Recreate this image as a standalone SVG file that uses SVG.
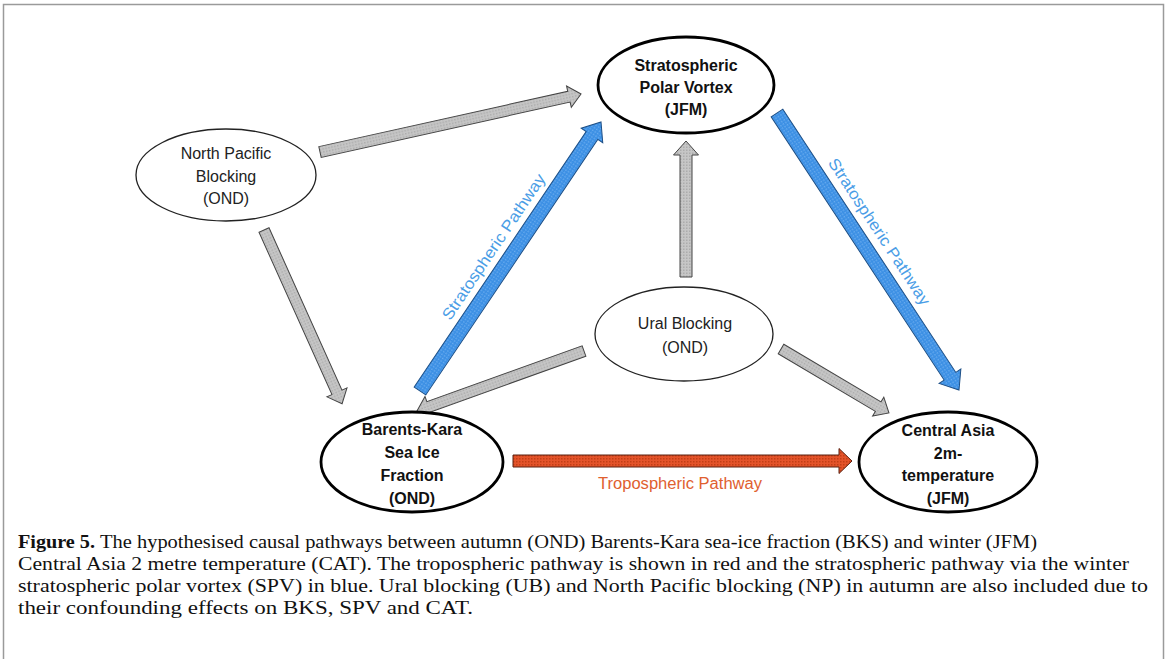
<svg xmlns="http://www.w3.org/2000/svg" width="1168" height="659" viewBox="0 0 1168 659">
<style>
.node-thick{fill:#fff;stroke:#000;stroke-width:2.8}
.node-thin{fill:#fff;stroke:#222;stroke-width:1.3}
.nb{font-family:"Liberation Sans",Arial,sans-serif;font-size:16px;font-weight:bold;fill:#111;text-anchor:middle}
.nr{font-family:"Liberation Sans",Arial,sans-serif;font-size:16px;fill:#222;text-anchor:middle}
.ag{fill:url(#pg);stroke:#444;stroke-width:1}
.ab{fill:url(#pb);stroke:#1d4f86;stroke-width:1}
.ar{fill:url(#pr);stroke:#5a2010;stroke-width:1}
.lb{font-family:"Liberation Sans",Arial,sans-serif;font-size:16px;fill:#4a9de6;text-anchor:middle}
.lr{font-family:"Liberation Sans",Arial,sans-serif;font-size:16px;fill:#e0602f;text-anchor:middle}
.cap{font-family:"Liberation Serif","Times New Roman",serif;font-size:18.5px;fill:#111}
</style>
<defs>
<pattern id="pg" width="3" height="3" patternUnits="userSpaceOnUse"><rect width="3" height="3" fill="#c6c6c6"/><rect width="1.5" height="1.5" fill="#acacac"/></pattern>
<pattern id="pb" width="3" height="3" patternUnits="userSpaceOnUse"><rect width="3" height="3" fill="#3b8fe4"/><rect width="1.5" height="1.5" fill="#69acef"/></pattern>
<pattern id="pr" width="3" height="3" patternUnits="userSpaceOnUse"><rect width="3" height="3" fill="#e4532a"/><rect width="1.5" height="1.5" fill="#c23e16"/></pattern>
</defs>
<rect width="1168" height="659" fill="#fff"/>
<path d="M3.5,665 V4.5 H1163.5 V665" fill="none" stroke="#9a9a9a" stroke-width="1.5"/>

<g id="connectors">
<polygon class="ag" transform="translate(320,152) rotate(-12.53)" points="0,-5.5 255,-5.5 255,-11 267.4,0 255,11 255,5.5 0,5.5"/>
<polygon class="ab" transform="translate(420,391) rotate(-56.06)" points="0,-7 308,-7 308,-13 324.2,0 308,13 308,7 0,7"/>
<polygon class="ag" transform="translate(264,230) rotate(65.8)" points="0,-5.5 178,-5.5 178,-11 190.5,0 178,11 178,5.5 0,5.5"/>
<polygon class="ag" transform="translate(686,277) rotate(-90)" points="0,-6 122,-6 122,-12.5 136,0 122,12.5 122,6 0,6"/>
<polygon class="ag" transform="translate(584,351) rotate(160.24)" points="0,-5.5 165,-5.5 165,-11 177.5,0 165,11 165,5.5 0,5.5"/>
<polygon class="ag" transform="translate(781,349) rotate(30.65)" points="0,-5.5 113,-5.5 113,-11 125.5,0 113,11 113,5.5 0,5.5"/>
<polygon class="ab" transform="translate(777,113) rotate(56.69)" points="0,-7 315,-7 315,-13 331.4,0 315,13 315,7 0,7"/>
<polygon class="ar" transform="translate(513,461)" points="0,-6 326,-6 326,-12.5 339,0 326,12.5 326,6 0,6"/>

<text class="lb" transform="translate(494,247) rotate(-56.06)" textLength="172" lengthAdjust="spacingAndGlyphs" dy="5">Stratospheric Pathway</text>
<text class="lb" transform="translate(879,232) rotate(56.69)" textLength="172" lengthAdjust="spacingAndGlyphs" dy="5">Stratospheric Pathway</text>
<text class="lr" x="680" y="489" textLength="164" lengthAdjust="spacingAndGlyphs">Tropospheric Pathway</text>
</g>

<g id="node-spv">
<ellipse class="node-thick" cx="686" cy="85" rx="88" ry="48"/>
<text class="nb" x="686" y="71">Stratospheric</text>
<text class="nb" x="686" y="93">Polar Vortex</text>
<text class="nb" x="686" y="115">(JFM)</text>
</g>

<g id="node-np">
<ellipse class="node-thin" cx="226" cy="175" rx="90" ry="46"/>
<text class="nr" x="226" y="159">North Pacific</text>
<text class="nr" x="226" y="182">Blocking</text>
<text class="nr" x="226" y="204">(OND)</text>
</g>

<g id="node-ural">
<ellipse class="node-thin" cx="684" cy="334" rx="89" ry="47"/>
<text class="nr" x="685" y="329">Ural Blocking</text>
<text class="nr" x="685" y="353">(OND)</text>
</g>

<g id="node-bks">
<ellipse class="node-thick" cx="412" cy="462" rx="91" ry="50"/>
<text class="nb" x="412" y="435">Barents-Kara</text>
<text class="nb" x="412" y="458">Sea Ice</text>
<text class="nb" x="412" y="481">Fraction</text>
<text class="nb" x="412" y="504">(OND)</text>
</g>

<g id="node-cat">
<ellipse class="node-thick" cx="948" cy="462" rx="89" ry="50"/>
<text class="nb" x="948" y="436">Central Asia</text>
<text class="nb" x="948" y="459">2m-</text>
<text class="nb" x="948" y="481">temperature</text>
<text class="nb" x="948" y="504">(JFM)</text>
</g>

<g id="caption">
<text class="cap" x="18" y="548" font-weight="bold" textLength="77" lengthAdjust="spacingAndGlyphs">Figure 5.</text>
<text class="cap" x="100" y="548" textLength="937" lengthAdjust="spacingAndGlyphs">The hypothesised causal pathways between autumn (OND) Barents-Kara sea-ice fraction (BKS) and winter (JFM)</text>
<text class="cap" x="18" y="570" textLength="1111" lengthAdjust="spacingAndGlyphs">Central Asia 2 metre temperature (CAT). The tropospheric pathway is shown in red and the stratospheric pathway via the winter</text>
<text class="cap" x="18" y="592" textLength="1130" lengthAdjust="spacingAndGlyphs">stratospheric polar vortex (SPV) in blue. Ural blocking (UB) and North Pacific blocking (NP) in autumn are also included due to</text>
<text class="cap" x="18" y="614" textLength="455" lengthAdjust="spacingAndGlyphs">their confounding effects on BKS, SPV and CAT.</text>
</g>
</svg>
